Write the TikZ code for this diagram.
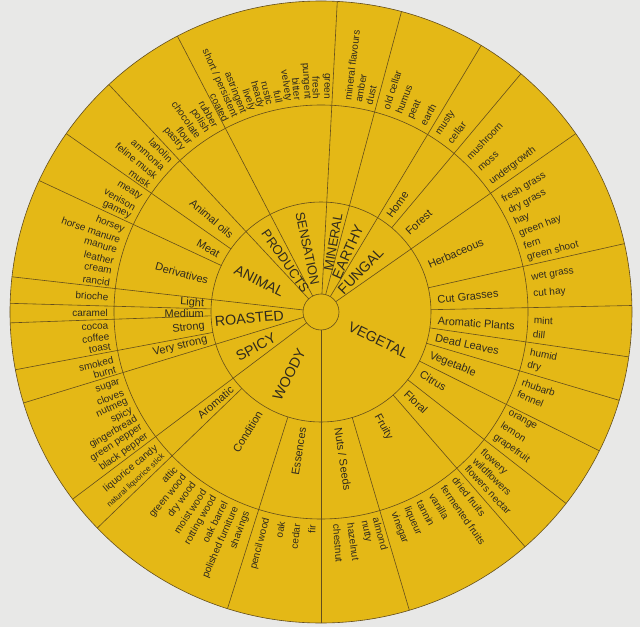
\documentclass[tikz,border=0pt]{standalone}
\usepackage{fontspec}
\setmainfont{Liberation Sans}
\definecolor{bg}{RGB}{232,232,231}
\definecolor{wheel}{RGB}{228,184,22}
\definecolor{ln}{RGB}{100,78,28}
\definecolor{tx}{RGB}{48,42,30}
\newcounter{wn}
\newcommand\WR[3][otxt]{\stepcounter{wn}\node[#1,rotate=#2,anchor=west] (w\arabic{wn}) at (#2:213pt) {#3};}
\newcommand\WL[3][otxt]{\stepcounter{wn}\node[#1,rotate=#2+180,anchor=east] (w\arabic{wn}) at (#2:213pt) {#3};}
\newcommand\MR[2]{\stepcounter{wn}\node[mtxt,rotate=#1,anchor=west] (m\arabic{wn}) at (#1:117pt) {#2};}
\newcommand\ML[2]{\stepcounter{wn}\node[mtxt,rotate=#1+180,anchor=east] (m\arabic{wn}) at (#1:117pt) {#2};}
\begin{document}
\begin{tikzpicture}[
  sep/.style={draw=ln, line width=0.6pt},
  otxt/.style={font=\fontsize{10}{12}\selectfont, text=tx, inner sep=0pt},
  stxt/.style={font=\fontsize{8}{10}\selectfont, text=tx, inner sep=0pt},
  mtxt/.style={font=\fontsize{11}{13}\selectfont, text=tx, inner sep=0pt},
  itxt/.style={font=\fontsize{14.3}{16}\selectfont, text=tx, inner sep=0pt},
  ictxt/.style={font=\fontsize{13}{15}\selectfont, text=tx, inner sep=0pt},
]
\useasboundingbox (-321pt,-315pt) rectangle (319pt,312pt);
\fill[bg] (-321pt,-315pt) rectangle (319pt,312pt);
% wheel
\draw[sep, fill=wheel] (0,0) circle[radius=311pt];
\draw[sep] (0,0) circle[radius=207pt];
\draw[sep] (0,0) circle[radius=110pt];
\draw[sep] (0,0) circle[radius=18pt];
% full radial lines
\foreach \a in {87,117.5,133,173.5,197,217,270,35,59,75}
  \draw[sep] (\a:18pt) -- (\a:311pt);
% lines in the two outer rings
\foreach \a in {145,155,178.4,182,190.7,224,252.5,-73.5,-49,-38,-26.5,-16.5,-8.3,1.2,12.7,50}
  \draw[sep] (\a:110pt) -- (\a:311pt);
% inner ring
\node[ictxt,rotate=-78] (sensation) at (102:65pt) {SENSATION};
\node[ictxt,rotate=-55] (products) at (125:62pt) {PRODUCTS};
\node[itxt,rotate=-26.5] (animal) at (153.5:69pt) {ANIMAL};
\node[itxt,rotate=5] (roasted) at (185:72pt) {ROASTED};
\node[itxt,rotate=28.5] (spicy) at (208.5:74pt) {SPICY};
\node[itxt,rotate=63] (woody) at (243:70pt) {WOODY};
\node[itxt,rotate=-26] (vegetal) at (-26:64pt) {VEGETAL};
\node[itxt,rotate=46] (fungal) at (46:57pt) {FUNGAL};
\node[itxt,rotate=66] (earthy) at (66:66pt) {EARTHY};
\node[ictxt,rotate=80] (mineral) at (80:71pt) {MINERAL};
% middle ring
\ML{139.5}{Animal oils}
\ML{150.5}{Meat}
\ML{164.5}{Derivatives}
\ML{176}{Light}
\ML{180.5}{Medium}
\ML{186.8}{Strong}
\ML{193.8}{Very strong}
\ML{220.6}{Aromatic}
\ML{238.5}{Condition}
\ML{261}{Essences}
\MR{-81.5}{Nuts / Seeds}
\MR{-61.5}{Fruity}
\MR{-43.5}{Floral}
\MR{-31.5}{Citrus}
\MR{-21.8}{Vegetable}
\MR{-12.4}{Dead Leaves}
\MR{-4.2}{Aromatic Plants}
\MR{6.0}{Cut Grasses}
\MR{23.5}{Herbaceous}
\MR{42.5}{Forest}
\MR{54.5}{Home}
% outer ring, left half
\WL{88.7}{green}
\WL{91.22}{fresh}
\WL{93.74}{pungent}
\WL{96.26}{bitter}
\WL{98.78}{velvety}
\WL{101.3}{full}
\WL{103.82}{rustic}
\WL{106.34}{heady}
\WL{108.86}{lively}
\WL{111.38}{astringent}
\WL{113.9}{short / persistent}
\WL{116.42}{coated}
\WL{119.6}{rubber}
\WL{122.3}{polish}
\WL{125.0}{chocolate}
\WL{127.7}{flour}
\WL{130.4}{pastry}
\WL{134.7}{lanolin}
\WL{137.7}{ammonia}
\WL{140.7}{feline musk}
\WL{143.6}{musk}
\WL{147.6}{meaty}
\WL{150.7}{venison}
\WL{153.6}{gamey}
\WL{157.5}{horsey}
\WL{160.4}{horse manure}
\WL{163.3}{manure}
\WL{166.2}{leather}
\WL{169.1}{cream}
\WL{172.0}{rancid}
\WL{176.0}{brioche}
\WL{180.2}{caramel}
\WL{183.8}{cocoa}
\WL{186.6}{coffee}
\WL{189.3}{toast}
\WL{193.0}{smoked}
\WL{195.6}{burnt}
\WL{199.3}{sugar}
\WL{202.0}{cloves}
\WL{204.7}{nutmeg}
\WL{207.4}{spicy}
\WL{210.1}{gingerbread}
\WL{212.8}{green pepper}
\WL{215.4}{black pepper}
\WL{219.5}{liquorice candy}
\WL[stxt]{222.4}{natural liquorice stick}
\WL{227.0}{attic}
\WL{230.3}{green wood}
\WL{233.5}{dry wood}
\WL{236.7}{moist wood}
\WL{240.0}{rotting wood}
\WL{243.2}{oak barrel}
\WL{246.5}{polished furniture}
\WL{249.7}{shavings}
\WL{255.3}{pencil wood}
\WL{259.4}{oak}
\WL{263.5}{cedar}
\WL{267.6}{fir}
% outer ring, right half
\WR{-85.8}{chestnut}
\WR{-82.0}{hazelnut}
\WR{-78.4}{nutty}
\WR{-75.0}{almond}
\WR{-70.0}{vinegar}
\WR{-66.3}{liqueur}
\WR{-62.5}{tannin}
\WR{-58.7}{vanilla}
\WR{-55.0}{fermented fruits}
\WR{-51.3}{dried fruits}
\WR{-46.8}{flowers nectar}
\WR{-43.9}{wildflowers}
\WR{-41.0}{flowery}
\WR{-35.6}{grapefruit}
\WR{-31.9}{lemon}
\WR{-28.3}{orange}
\WR{-22.5}{fennel}
\WR{-19.2}{rhubarb}
\WR{-14.4}{dry}
\WR{-10.9}{humid}
\WR{-6.0}{dill}
\WR{-2.2}{mint}
\WR{4.8}{cut hay}
\WR{9.2}{wet grass}
\WR{14.7}{green shoot}
\WR{18.0}{fern}
\WR{21.4}{green hay}
\WR{24.8}{hay}
\WR{28.1}{dry grass}
\WR{31.5}{fresh grass}
\WR{37.3}{undergrowth}
\WR{41.9}{moss}
\WR{46.3}{mushroom}
\WR{52.9}{cellar}
\WR{56.6}{musty}
\WR{61.5}{earth}
\WR{65.1}{peat}
\WR{68.7}{humus}
\WR{72.2}{old cellar}
\WR{77.0}{dust}
\WR{79.9}{amber}
\WR{82.8}{mineral flavours}
\end{tikzpicture}
\end{document}
